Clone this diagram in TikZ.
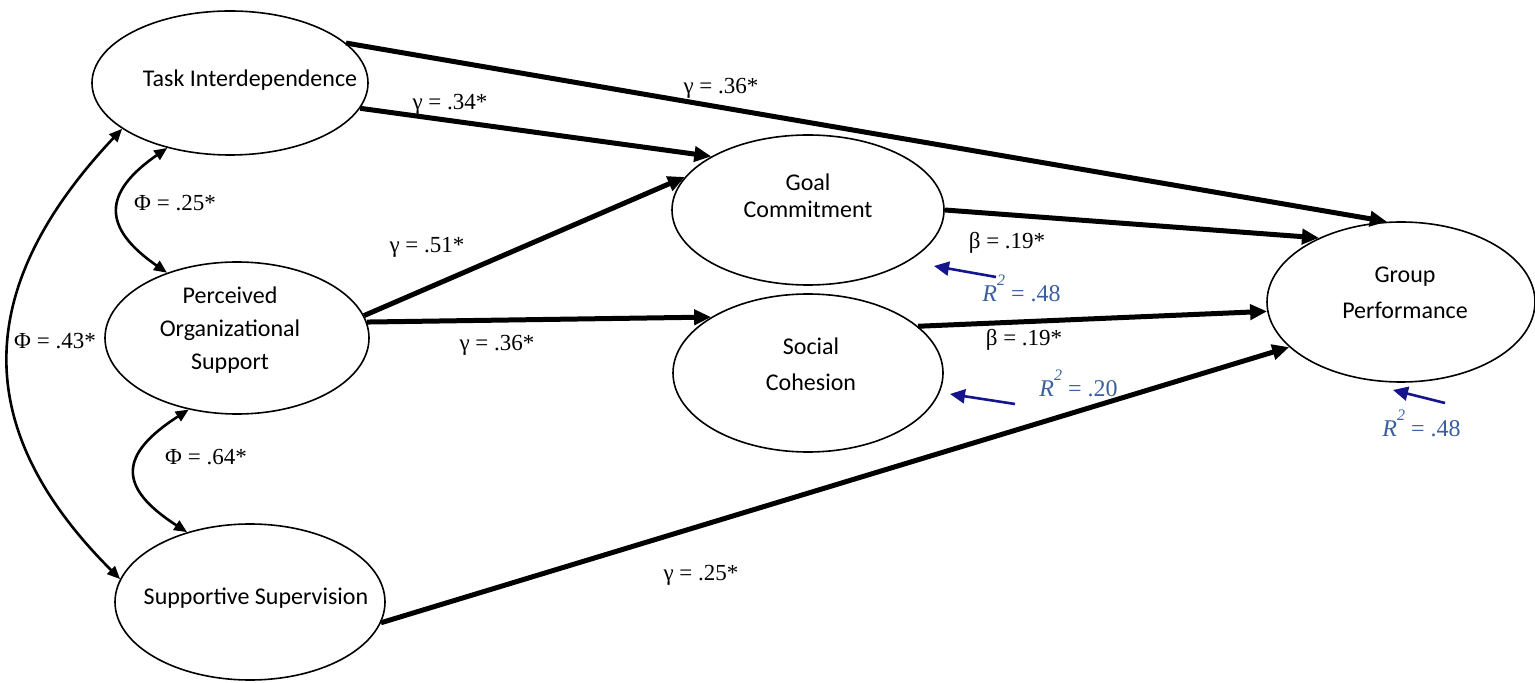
\documentclass[tikz,border=0pt]{standalone}
\usepackage{fontspec}
\setmainfont{Liberation Serif}
\newfontfamily\calibri{Carlito}
\usetikzlibrary{shapes.geometric,arrows.meta}
\definecolor{rsqblue}{RGB}{58,95,160}
\definecolor{rsqnavy}{RGB}{20,20,140}
\tikzset{
  latent/.style={draw, ellipse, line width=0.8pt, inner sep=0pt},
  inner/.style={font=\calibri\fontsize{12}{14.5}\selectfont, align=center, inner sep=0pt},
  effect/.style={line width=2.5pt, -{Triangle[length=8.5pt,width=7.5pt]}},
  covar/.style={line width=1.3pt, {Triangle[length=6.5pt,width=5.5pt]}-{Triangle[length=6.5pt,width=5.5pt]}},
  coef/.style={font=\fontsize{11.5}{13}\selectfont, inner sep=0pt},
  rsq/.style={font=\fontsize{12}{14}\selectfont, text=rsqblue, inner sep=0pt, anchor=base west},
  rsqarrow/.style={draw=rsqnavy, line width=1.3pt, -{Triangle[length=7.5pt,width=7pt]}}
}
\newcommand{\rsqtext}[1]{\textit{R}\raisebox{8pt}{\footnotesize\textit{2}}\ = .#1}
\begin{document}
\begin{tikzpicture}[x=0.5pt,y=-0.5pt]
\useasboundingbox (0,0) rectangle (1535,683);
\node[latent, minimum width=138pt, minimum height=72pt, label={[inner,xshift=10pt,yshift=1.5pt]center:Task Interdependence}] (ti) at (230,83) {};
\node[latent, minimum width=132pt, minimum height=76pt, label={[inner,xshift=-3.5pt,yshift=4pt]center:{Perceived\\[2pt]Organizational\\[2pt]Support}}] (pos) at (237,338) {};
\node[latent, minimum width=135pt, minimum height=78pt, label={[inner,xshift=3pt,yshift=2pt]center:Supportive Supervision}] (ss) at (250,602) {};
\node[latent, minimum width=136pt, minimum height=75pt, label={[inner,yshift=7pt]center:{Goal\\[-1pt]Commitment}}] (gc) at (808,210) {};
\node[latent, minimum width=135pt, minimum height=79pt, label={[inner,xshift=1.5pt,yshift=4.5pt]center:{Social\\[3.5pt]Cohesion}}] (sc) at (808,373) {};
\node[latent, minimum width=134pt, minimum height=80pt, label={[inner,xshift=2pt,yshift=4.5pt]center:{Group\\[3.5pt]Performance}}] (gp) at (1401,302) {};

\draw[effect] (ti.19.5) -- (gp.100.7);
\draw[effect] (ti.-11) -- (gc.151);
\draw[effect] (pos.10) -- (gc.165);
\draw[effect] (pos.7) -- (sc.150);
\draw[effect] (gc.0) -- (gp.142);
\draw[effect] (sc.23) -- (gp.-176);
\draw[effect] (ss.-9) -- (gp.-158);

\draw[covar] (ti.-134) .. controls +(-65,45) and +(-65,-45) .. (pos.137);
\draw[covar] (pos.-124) .. controls +(-70,45) and +(-70,-45) .. (ss.132);
\draw[covar] (ti.-157) .. controls +(-160,170) and +(-140,-140) .. (ss.170);

\node[coef] (g1) at (721,88) {γ = .36*};
\node[coef] (g2) at (450,104) {γ = .34*};
\node[coef] (g3) at (427,247) {γ = .51*};
\node[coef] (g4) at (497,345) {γ = .36*};
\node[coef] (b1) at (1007,243) {β = .19*};
\node[coef] (b2) at (1024,340) {β = .19*};
\node[coef] (g5) at (701,575) {γ = .25*};
\node[coef] (f1) at (175,203) {Φ = .25*};
\node[coef] (f2) at (206,457) {Φ = .64*};
\node[coef] (f3) at (55,341) {Φ = .43*};

\node[rsq] (r1) at (982,302) {\rsqtext{48}};
\node[rsq] (r2) at (1039,397) {\rsqtext{20}};
\node[rsq] (r3) at (1382,437) {\rsqtext{48}};
\coordinate (r1t) at (996,277); \coordinate (r1h) at (934,266);
\coordinate (r2t) at (1015,404); \coordinate (r2h) at (950,394);
\coordinate (r3t) at (1445,403); \coordinate (r3h) at (1393,390);
\draw[rsqarrow] (r1t) -- (r1h);
\draw[rsqarrow] (r2t) -- (r2h);
\draw[rsqarrow] (r3t) -- (r3h);
\end{tikzpicture}
\end{document}
